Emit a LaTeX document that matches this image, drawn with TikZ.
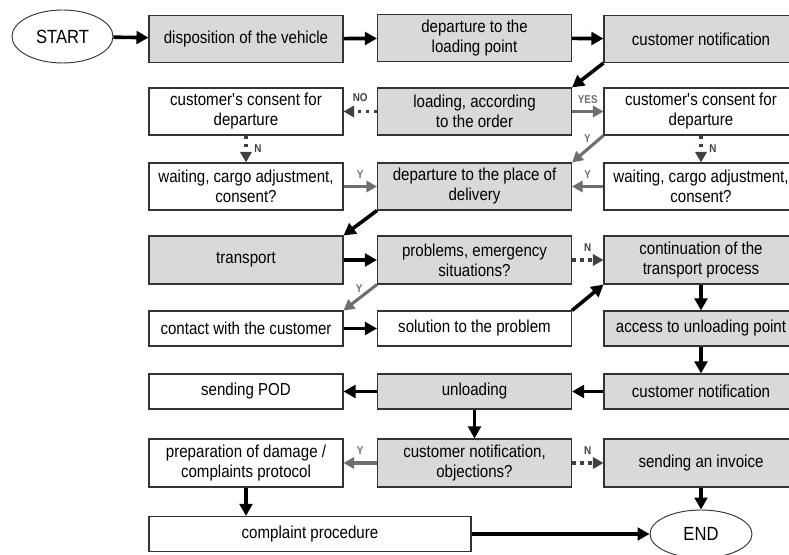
\documentclass[tikz,border=0pt]{standalone}
\usepackage{fontspec}
\setmainfont[FakeStretch=0.87]{Liberation Sans}
\usetikzlibrary{arrows.meta,shapes.geometric}
\definecolor{boxGray}{HTML}{D9D9D9}
\definecolor{yesGray}{HTML}{6E6E6E}
\definecolor{noGray}{HTML}{404040}

\begin{document}
\begin{tikzpicture}[x=0.75pt,y=-0.75pt,
  box/.style={draw=black!80, line width=0.8pt, minimum width=145.5pt, minimum height=35.25pt,
    inner sep=1pt, align=center, font=\fontsize{13}{15}\selectfont},
  actbox/.style={box, fill=boxGray},
  decbox/.style={box, fill=white},
  short/.style={minimum height=26.25pt},
  tall/.style={minimum height=36pt},
  term/.style={ellipse, draw=black!80, line width=0.7pt, inner sep=0pt,
    font=\fontsize{14.3}{16}\selectfont},
  flow/.style={draw=black, line width=2.7pt, -{Triangle[length=9pt,width=9.5pt]}},
  yflow/.style={draw=yesGray, line width=2.3pt, -{Triangle[length=8pt,width=8.5pt]}},
  nflow/.style={draw=noGray, line width=2.4pt, dash pattern=on 2.6pt off 3.4pt,
    -{Triangle[length=8pt,width=8.5pt]}},
  ylbl/.style={font=\fontsize{8.5}{9}\selectfont\bfseries, inner sep=1pt, text=yesGray},
  nlbl/.style={font=\fontsize{8.5}{9}\selectfont\bfseries, inner sep=1pt, text=noGray},
]
\useasboundingbox (0,0) rectangle (789,555);

% terminals
\node[term, minimum width=75.75pt, minimum height=39.75pt] (start) at (62.5,36.5) {START};
\node[term, minimum width=76.5pt, minimum height=36pt] (end) at (701,534) {END};

% row 1
\node[actbox] (disp)   at (246,39)   {disposition of the vehicle};
\node[actbox] (deplp)  at (474.5,38) {departure to the\\loading point};
\node[actbox] (notif1) at (701,39)   {customer notification};
% row 2
\node[decbox] (cons1) at (246,111.5)   {customer\textquotesingle s consent for\\departure};
\node[actbox] (load)  at (474.5,111.5) {loading, according\\to the order};
\node[decbox] (cons2) at (701,111.5)   {customer\textquotesingle s consent for\\departure};
% row 3
\node[decbox] (wait1)  at (246,186.5)   {waiting, cargo adjustment,\\consent?};
\node[actbox] (depdel) at (474.5,186.5) {departure to the place of\\delivery};
\node[decbox] (wait2)  at (701,186.5)   {waiting, cargo adjustment,\\consent?};
% row 4
\node[actbox, tall] (transport) at (246,260)   {transport};
\node[actbox, tall] (problems)  at (474.5,260) {problems, emergency\\situations?};
\node[actbox, tall] (cont)      at (701,260)   {continuation of the\\transport process};
% row 5
\node[decbox, short] (contact)  at (246,328.5)   {contact with the customer};
\node[decbox, short] (solution) at (474.5,328.5) {solution to the problem};
\node[actbox, short] (access)   at (701,328.5)   {access to unloading point};
% row 6
\node[decbox, short] (pod)    at (246,391.5)   {sending POD};
\node[actbox, short] (unload) at (474.5,391.5) {unloading};
\node[actbox, short] (notif2) at (701,391.5)   {customer notification};
% row 7
\node[decbox, tall] (prep)    at (246,463)   {preparation of damage /\\complaints protocol};
\node[actbox, tall] (objec)   at (474.5,463) {customer notification,\\objections?};
\node[actbox, tall] (invoice) at (701,463)   {sending an invoice};
% row 8
\node[decbox, short, minimum width=241.5pt] (complaint) at (310,534) {complaint procedure};

% connectors
\draw[flow] (start) -- (disp);
\draw[flow] (disp) -- (deplp);
\draw[flow] (deplp) -- (notif1);
\draw[flow] (notif1.south west) -- (load.north east);
\draw[nflow] (load) -- node[nlbl, above=5pt] {NO} (cons1);
\draw[yflow] (load) -- node[ylbl, above=4pt] {YES} (cons2);
\draw[nflow] (cons1) -- node[nlbl, right=4pt] {N} (wait1);
\draw[nflow] (cons2) -- node[nlbl, right=4pt] {N} (wait2);
\draw[yflow] (cons2.south west) -- (depdel.north east) node[ylbl, pos=0.1, left=5pt] {Y};
\draw[yflow] (wait1) -- node[ylbl, above=4pt] {Y} (depdel);
\draw[yflow] (wait2) -- node[ylbl, above=4pt] {Y} (depdel);
\draw[flow] (depdel.south west) -- (transport.north east);
\draw[flow] (transport) -- (problems);
\draw[nflow] (problems) -- node[nlbl, above=4pt] {N} (cont);
\draw[yflow] (problems.south west) -- (contact.north east) node[ylbl, pos=0.15, left=5pt] {Y};
\draw[flow] (contact) -- (solution);
\draw[flow] (solution.north east) -- (cont.south west);
\draw[flow] (cont) -- (access);
\draw[flow] (access) -- (notif2);
\draw[flow] (notif2) -- (unload);
\draw[flow] (unload) -- (pod);
\draw[flow] (unload) -- (objec);
\draw[yflow] (objec) -- node[ylbl, above=4pt] {Y} (prep);
\draw[nflow] (objec) -- node[nlbl, above=4pt] {N} (invoice);
\draw[flow] (prep.south) -- (prep.south |- complaint.north);
\draw[flow] (complaint) -- (end);
\draw[flow] (invoice) -- (end);
\end{tikzpicture}
\end{document}
